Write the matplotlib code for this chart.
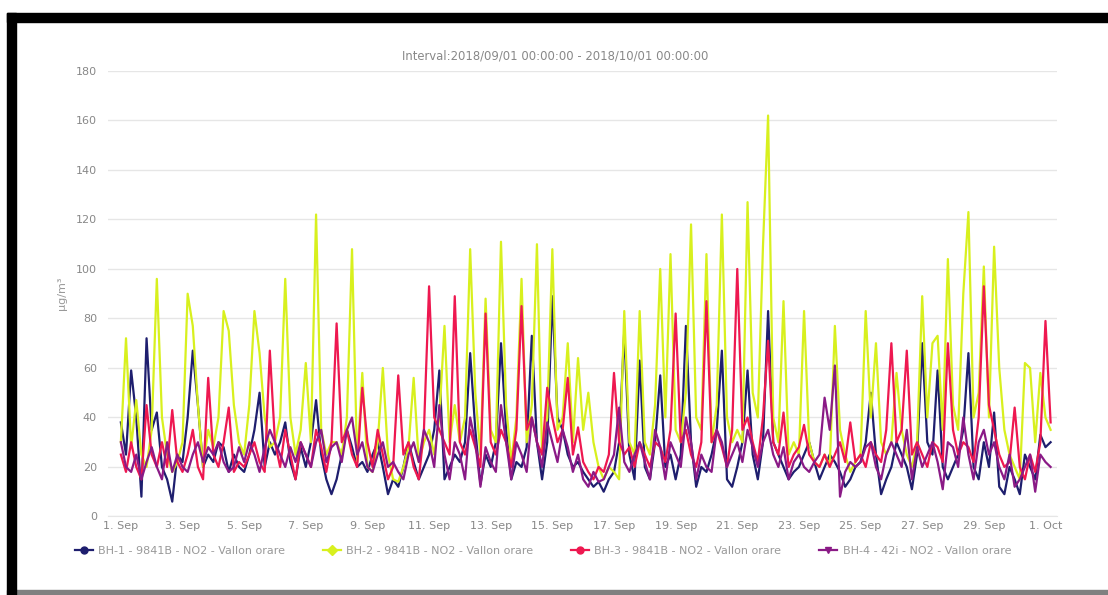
import matplotlib.pyplot as plt
from matplotlib.patches import Rectangle
import pandas as pd

# 4-hourly readings (00, 04, 08, 12, 16, 20h), one row per day
bh1 = [
    38, 25, 59, 40, 8, 72,
    35, 42, 20, 15, 6, 25,
    22, 40, 67, 45, 20, 25,
    22, 30, 28, 18, 25, 20,
    18, 25, 35, 50, 20, 30,
    25, 30, 38, 22, 15, 28,
    20, 30, 47, 25, 15, 9,
    15, 25, 35, 28, 20, 22,
    18, 25, 30, 20, 9, 15,
    12, 20, 30, 22, 15, 20,
    25, 35, 59, 15, 20, 25,
    22, 30, 66, 35, 13, 25,
    20, 30, 70, 35, 15, 22,
    20, 28, 73, 30, 15, 30,
    89, 40, 35, 25, 20, 22,
    18, 15, 12, 14, 10, 15,
    18, 30, 75, 25, 15, 63,
    20, 15, 30, 57, 20, 25,
    15, 25, 77, 30, 12, 20,
    18, 25, 35, 67, 15, 12,
    20, 30, 59, 25, 15, 30,
    83, 30, 25, 20, 15, 18,
    20, 25, 30, 22, 15, 20,
    25, 22, 18, 12, 15, 20,
    22, 30, 50, 25, 9, 15,
    20, 30, 25, 20, 11, 25,
    70, 30, 25, 59, 20, 15,
    20, 25, 35, 66, 20, 15,
    30, 20, 42, 12, 9, 20,
    15, 9, 25, 20, 15, 33,
    28, 30,
]
bh2 = [
    30, 72, 28, 47, 25, 20,
    35, 96, 40, 25, 18, 22,
    30, 90, 77, 45, 20, 35,
    28, 40, 83, 75, 45, 30,
    25, 45, 83, 66, 40, 28,
    30, 40, 96, 40, 25, 35,
    62, 30, 122, 35, 25, 30,
    30, 25, 40, 108, 22, 58,
    20, 18, 30, 60, 25, 15,
    14, 20, 28, 56, 22, 30,
    35, 25, 40, 77, 30, 45,
    30, 40, 108, 50, 25, 88,
    35, 30, 111, 45, 22, 40,
    96, 30, 45, 110, 25, 40,
    108, 35, 40, 70, 30, 64,
    35, 50, 30, 20, 15, 20,
    18, 15, 83, 30, 25, 83,
    30, 25, 45, 100, 40, 106,
    35, 30, 50, 118, 40, 35,
    106, 30, 45, 122, 40, 30,
    35, 30, 127, 50, 40, 109,
    162, 40, 30, 87, 25, 30,
    25, 83, 30, 22, 20, 25,
    20, 77, 35, 25, 18, 22,
    25, 83, 40, 70, 30, 25,
    30, 58, 35, 25, 20, 30,
    89, 40, 70, 73, 35, 104,
    45, 35, 90, 123, 40, 50,
    101, 40, 109, 60, 35, 25,
    20, 15, 62, 60, 30, 58,
    40, 35,
]
bh3 = [
    25, 18, 30, 20, 15, 45,
    25, 20, 30, 20, 43, 22,
    18, 25, 35, 20, 15, 56,
    25, 20, 30, 44, 18, 22,
    20, 25, 30, 22, 18, 67,
    30, 20, 35, 25, 15, 30,
    25, 20, 35, 28, 18, 30,
    78, 30, 35, 25, 20, 52,
    30, 20, 35, 25, 15, 20,
    57, 25, 30, 20, 15, 35,
    93, 40, 35, 30, 25, 89,
    30, 25, 35, 28, 20, 82,
    30, 25, 35, 30, 20, 35,
    85, 35, 40, 30, 25, 52,
    40, 30, 35, 56, 25, 36,
    22, 18, 15, 20, 18, 25,
    58, 30, 25, 28, 20, 30,
    25, 20, 30, 28, 22, 35,
    82, 30, 35, 25, 20, 30,
    87, 30, 35, 28, 20, 35,
    100, 35, 40, 30, 22, 40,
    71, 30, 25, 42, 20, 25,
    28, 37, 25, 22, 20, 25,
    20, 25, 30, 22, 38, 22,
    25, 20, 30, 25, 22, 35,
    70, 30, 35, 67, 25, 30,
    25, 20, 30, 28, 22, 70,
    35, 25, 30, 28, 22, 40,
    93, 45, 35, 25, 20, 22,
    44, 20, 15, 25, 18, 30,
    79, 38,
]
bh4 = [
    30, 20, 18, 25, 15, 22,
    28, 20, 15, 30, 18, 25,
    20, 18, 25, 30, 22, 28,
    25, 30, 22, 18, 20, 28,
    22, 30, 25, 18, 28, 35,
    30, 25, 20, 28, 22, 30,
    25, 20, 30, 35, 22, 28,
    30, 22, 35, 40, 25, 30,
    20, 18, 25, 30, 20, 22,
    18, 15, 25, 30, 22, 35,
    30, 20, 45, 25, 15, 30,
    25, 15, 40, 30, 12, 28,
    22, 18, 45, 30, 15, 30,
    25, 18, 40, 30, 20, 38,
    30, 22, 35, 28, 18, 25,
    15, 12, 18, 14, 15, 20,
    25, 44, 22, 18, 25, 30,
    22, 15, 35, 28, 15, 30,
    25, 20, 40, 30, 15, 25,
    20, 18, 35, 30, 20, 25,
    30, 22, 35, 28, 20, 30,
    35, 25, 20, 28, 15, 22,
    25, 20, 18, 22, 25, 48,
    35, 61, 8, 18, 22, 20,
    22, 28, 30, 20, 15, 25,
    30, 25, 20, 35, 15, 28,
    20, 25, 30, 22, 11, 30,
    28, 20, 40, 25, 15, 30,
    35, 25, 30, 20, 15, 25,
    12, 15, 20, 25, 10, 25,
    22, 20,
]

series_names = [
    "BH-1 - 9841B - NO2 - Vallon orare",
    "BH-2 - 9841B - NO2 - Vallon orare",
    "BH-3 - 9841B - NO2 - Vallon orare",
    "BH-4 - 42i - NO2 - Vallon orare",
]
colors = ["#1e1e6e", "#d8f01e", "#ee1850", "#8a1a86"]
markers = ["o", "D", "o", "v"]

tick_days = pd.date_range("2018-09-01", "2018-10-01", freq="2D")
tick_labels = ["1. Sep", "3. Sep", "5. Sep", "7. Sep", "9. Sep", "11. Sep", "13. Sep",
               "15. Sep", "17. Sep", "19. Sep", "21. Sep", "23. Sep", "25. Sep",
               "27. Sep", "29. Sep", "1. Oct"]

times = pd.date_range("2018-09-01", periods=len(bh1), freq="4h")

fig = plt.figure(figsize=(11.08, 5.95), dpi=100)
ax = fig.add_axes([0.0975, 0.132, 0.8565, 0.7487])

for vals, name, c in zip([bh1, bh2, bh3, bh4], series_names, colors):
    ax.plot(times, vals, color=c, linewidth=1.6, label=name)

ax.set_ylim(0, 180)
ax.set_yticks(range(0, 181, 20))
start = pd.Timestamp("2018-09-01")
ax.set_xlim(start - pd.Timedelta(hours=10), start + pd.Timedelta(days=30, hours=9))
ax.set_xticks(tick_days)
ax.set_xticklabels(tick_labels)

ax.grid(axis="y", color="#e6e6e6", linewidth=1)
ax.set_axisbelow(True)
for s in ["top", "right", "left"]:
    ax.spines[s].set_visible(False)
ax.spines["bottom"].set_color("#e6e6e6")
ax.tick_params(axis="both", length=0, labelsize=8, labelcolor="#888888")
ax.tick_params(axis="y", pad=8)
ax.tick_params(axis="x", pad=3)

ax.set_ylabel("µg/m³", fontsize=8, color="#999999", labelpad=6)
fig.text(0.501, 0.906, "Interval:2018/09/01 00:00:00 - 2018/10/01 00:00:00",
         fontsize=8.4, color="#888888", ha="center", va="center")

# legend with line + marker handles
handles = [plt.Line2D([], [], color=c, marker=m, markersize=5, linewidth=1.6)
           for c, m in zip(colors, markers)]
fig.legend(handles, series_names, loc="center", bbox_to_anchor=(0.49, 0.074),
           ncol=4, frameon=False, fontsize=8, labelcolor="#999999",
           handlelength=1.6, columnspacing=3.4, handletextpad=0.5)

# black frame around the screenshot
fig.add_artist(Rectangle((0.0063, 0.963), 0.9937, 0.015, transform=fig.transFigure,
                         color="black", zorder=10))
fig.add_artist(Rectangle((0.0063, 0.0), 0.0081, 0.978, transform=fig.transFigure,
                         color="black", zorder=10))
fig.add_artist(Rectangle((0.0063, 0.0), 0.9937, 0.008, transform=fig.transFigure,
                         color="#808080", zorder=9))

fig.savefig("out.png", dpi=100, facecolor="white")
